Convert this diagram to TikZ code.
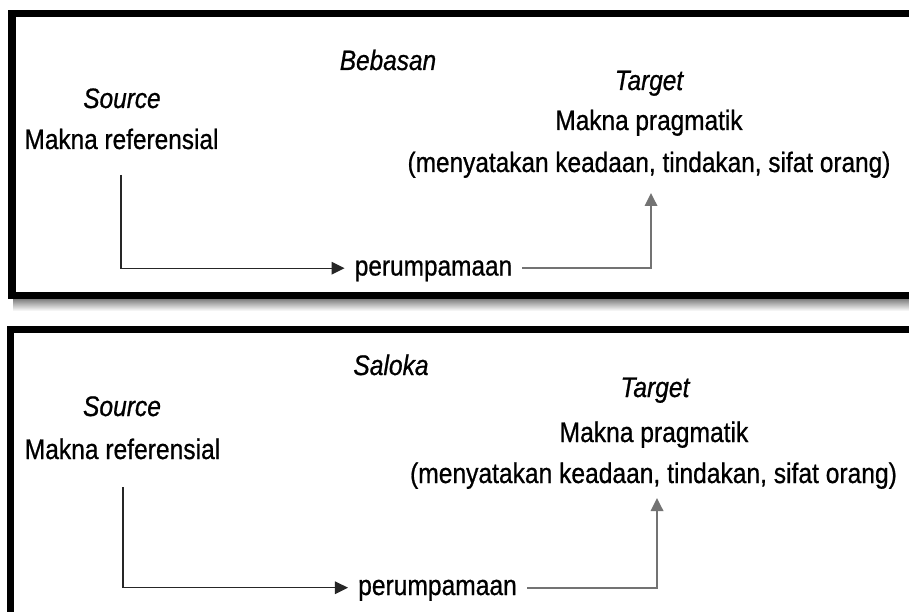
\documentclass[tikz,border=0pt]{standalone}
\usepackage{graphicx}
\usepackage{fontspec}
\setmainfont{Liberation Sans}[FakeBold=0.8]
\usetikzlibrary{arrows.meta}
\newcommand{\tallTxt}[1]{\scalebox{1}[1.15]{#1}}
\begin{document}
\begin{tikzpicture}[x=1pt,y=-1pt,
  frame/.style={line width=7.5pt,draw=black},
  txtA/.style={anchor=base,inner sep=0pt,font=\fontsize{24.4}{29}\selectfont},
  txtB/.style={anchor=base,inner sep=0pt,font=\fontsize{24.6}{29}\selectfont},
  italA/.style={font=\fontsize{24.4}{29}\selectfont\itshape},
  italB/.style={font=\fontsize{24.6}{29}\selectfont\itshape},
  midA/.style={anchor=base,inner ysep=0pt,inner xsep=10pt,text height=14.6pt,text depth=0pt,font=\fontsize{24.4}{29}\selectfont},
  midB/.style={anchor=base,inner ysep=0pt,inner xsep=10pt,text height=14.6pt,text depth=0pt,font=\fontsize{24.6}{29}\selectfont},
  conA/.style={line width=1.4pt,draw=black!85},
  conB/.style={line width=1.8pt,draw=black!55},
  tip/.style={-{Triangle[length=13pt,width=12.5pt]}}]
\useasboundingbox (0,0) rectangle (909,612);
\clip (0,0) rectangle (909,612);
\fill[white] (0,0) rectangle (909,612);
% shadow under first box
\shade[top color=black!50,bottom color=white] (13,299) rectangle (909,311);
% frames
\draw[frame] (12,13.5) rectangle (960,295.5);
\draw[frame] (10.5,329.5) rectangle (960,660);

% ---------- box 1 ----------
\node[txtA,italA] (t1title) at (388,70) {\tallTxt{Bebasan}};
\node[txtA,italA] (t1src) at (122,108) {\tallTxt{Source}};
\node[txtA] (t1srcm) at (121.5,149) {\tallTxt{Makna referensial}};
\node[txtA,italA] (t1tgt) at (649,90) {\tallTxt{Target}};
\node[txtA] (t1tgtm) at (649,130) {\tallTxt{Makna pragmatik}};
\node[txtA] (t1tgtd) at (649,172) {\tallTxt{(menyatakan keadaan, tindakan, sifat orang)}};
\node[midA] (t1mid) at (433.5,275.5) {\tallTxt{perumpamaan}};
\coordinate (s1) at (121,175);
\coordinate (e1) at (651,193);
\draw[conA,tip] (s1) |- (t1mid.west);
\draw[conB,tip] (t1mid.east) -| (e1);

% ---------- box 2 ----------
\node[txtB,italB] (t2title) at (391,375) {\tallTxt{Saloka}};
\node[txtB,italB] (t2src) at (122,416) {\tallTxt{Source}};
\node[txtB] (t2srcm) at (122.5,459) {\tallTxt{Makna referensial}};
\node[txtB,italB] (t2tgt) at (655,397) {\tallTxt{Target}};
\node[txtB] (t2tgtm) at (654,442) {\tallTxt{Makna pragmatik}};
\node[txtB] (t2tgtd) at (653.5,483) {\tallTxt{(menyatakan keadaan, tindakan, sifat orang)}};
\node[midB] (t2mid) at (437.5,595) {\tallTxt{perumpamaan}};
\coordinate (s2) at (123,487);
\coordinate (e2) at (657,498);
\draw[conA,tip] (s2) |- (t2mid.west);
\draw[conB,tip] (t2mid.east) -| (e2);
\end{tikzpicture}
\end{document}
